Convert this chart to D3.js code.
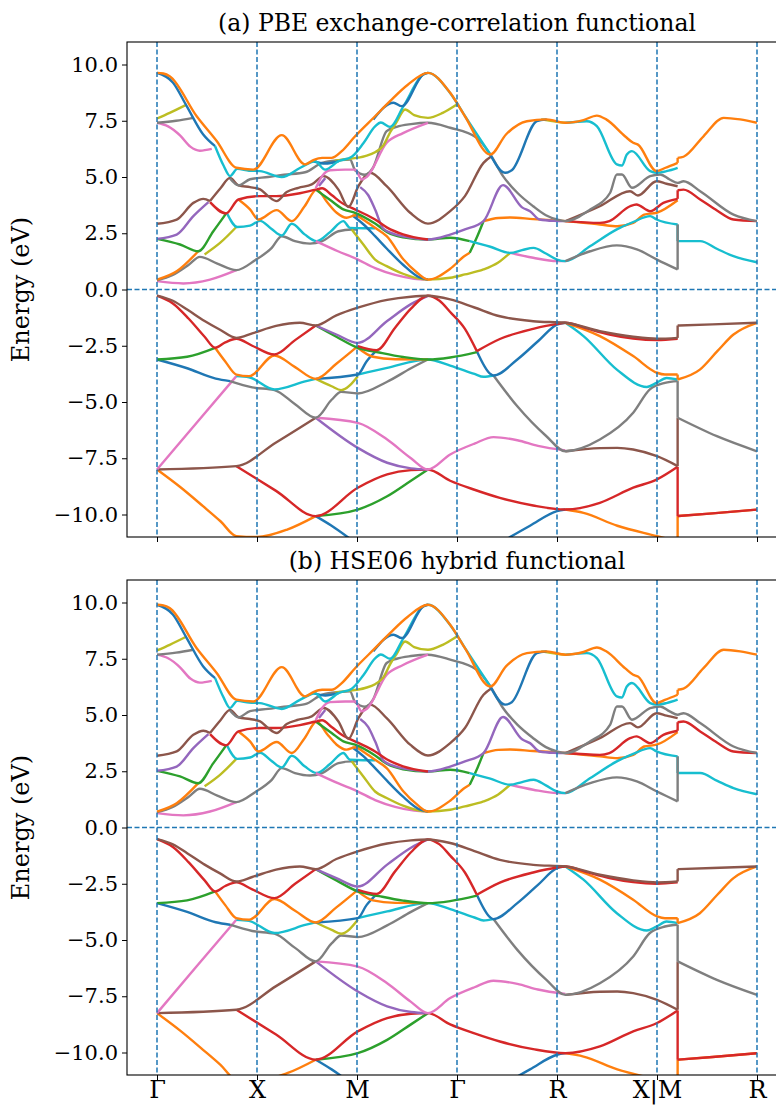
<!DOCTYPE html>
<html>
<head>
<meta charset="utf-8">
<script src="https://cdn.jsdelivr.net/npm/d3@7"></script>
<style>
  body { margin: 0; background: #fff; }
  svg text { font-family: "DejaVu Serif", serif; fill: #000; }
</style>
</head>
<body>
<svg id="chart" width="776" height="1105"></svg>
<script>
// matplotlib tab10 cycle
var tab = {C0: '#1f77b4', C1: '#ff7f0e', C2: '#2ca02c', C3: '#d62728', C4: '#9467bd',
           C5: '#8c564b', C6: '#e377c2', C7: '#7f7f7f', C8: '#bcbd22', C9: '#17becf'};

var kLabels = ['Γ', 'X', 'M', 'Γ', 'R', 'X|M', 'R'];
var kTicks = [0, 0.63, 1.26, 1.89, 2.52, 3.15, 3.78];
var yTicks = [-10, -7.5, -5, -2.5, 0, 2.5, 5, 7.5, 10];
var titles = ['(a) PBE exchange-correlation functional', '(b) HSE06 hybrid functional'];

// bands as [colour, [[k, E], ...]]
var bandsPBE = [
  ['C1', [[0,-8.0],[0.15,-8.8],[0.29,-9.63],[0.4,-10.3],[0.5,-10.96],[0.63,-11.0],[0.82,-10.67],[1,-10.07]]],
  ['C1', [[2.573,-9.78],[2.687,-9.93],[2.9,-10.5],[3.15,-10.96],[3.28,-11.2],[3.28,-10.07],[3.5,-9.95],[3.78,-9.78]]],
  ['C0', [[1,-10.07],[1.1,-10.5],[1.22,-11.1]]],
  ['C0', [[2.2,-11.1],[2.35,-10.5],[2.52,-9.85],[2.573,-9.78]]],
  ['C2', [[1,-10.07],[1.265,-9.78],[1.45,-9.19],[1.6,-8.5],[1.707,-8.0]]],
  ['C3', [[0.5,-7.85],[0.75,-8.95],[1,-10.07],[1.265,-8.81],[1.45,-8.22],[1.6,-8.03],[1.707,-8.0],[1.847,-8.5],[2,-8.9],[2.16,-9.26],[2.37,-9.6],[2.573,-9.78],[2.79,-9.48],[3,-8.81],[3.15,-8.44],[3.28,-7.88],[3.28,-10.07],[3.5,-9.95],[3.78,-9.78]]],
  ['C5', [[0,-8.0],[0.5,-7.85],[0.75,-6.8],[1,-5.7]]],
  ['C5', [[2.573,-7.19],[2.79,-7.05],[2.9,-7.04],[3,-7.11],[3.15,-7.41],[3.28,-7.85],[3.28,-5.7]]],
  ['C4', [[1,-5.7],[1.265,-7.04],[1.45,-7.7],[1.6,-7.95],[1.707,-8.0]]],
  ['C6', [[0,-8.0],[0.25,-5.92],[0.5,-3.85]]],
  ['C6', [[1,-5.7],[1.265,-5.93],[1.45,-6.67],[1.6,-7.5],[1.707,-8.0],[1.847,-7.33],[2,-6.85],[2.12,-6.56],[2.27,-6.7],[2.4,-6.95],[2.573,-7.15]]],
  ['C7', [[0.46,-4.07],[0.6,-4.35],[0.74,-4.47],[0.87,-5.1],[1,-5.7],[1.1,-4.9],[1.16,-4.55],[1.265,-4.62],[1.45,-4.1],[1.6,-3.5],[1.707,-3.11]]],
  ['C7', [[2.12,-3.82],[2.27,-5.19],[2.45,-6.5],[2.573,-7.19],[2.79,-6.67],[3,-5.48],[3.105,-4.44],[3.2,-4.15],[3.28,-4.07],[3.28,-5.7],[3.527,-6.52],[3.78,-7.19]]],
  ['C8', [[1,-3.97],[1.1,-4.3],[1.16,-4.47],[1.265,-3.85]]],
  ['C9', [[0.5,-3.85],[0.58,-3.9],[0.74,-4.44],[0.94,-4.07],[1,-3.97]]],
  ['C9', [[1.265,-3.78],[1.45,-3.48],[1.707,-3.11],[1.847,-3.38],[2,-3.75],[2.057,-3.88],[2.12,-3.82]]],
  ['C9', [[2.573,-1.48],[2.687,-2.07],[2.897,-3.56],[3.086,-4.33],[3.147,-4.15],[3.21,-3.93],[3.28,-4.0]]],
  ['C0', [[0,-3.11],[0.19,-3.5],[0.37,-3.96],[0.46,-4.07]]],
  ['C0', [[1,-3.97],[1.265,-3.78],[1.32,-3.2],[1.384,-2.71]]],
  ['C0', [[2.015,-2.74],[2.1,-3.75],[2.12,-3.82],[2.27,-3.11],[2.4,-2.3],[2.52,-1.56],[2.573,-1.48]]],
  ['C1', [[0.366,-2.59],[0.43,-3.2],[0.5,-3.78],[0.58,-3.85],[0.74,-2.93],[0.87,-3.45],[1,-3.97],[1.13,-3.3],[1.265,-2.52]]],
  ['C1', [[1.265,-2.59],[1.36,-2.99],[1.5,-3.1],[1.707,-3.11]]],
  ['C1', [[2.573,-1.48],[2.79,-2.07],[3,-2.96],[3.15,-3.7],[3.2,-3.78],[3.28,-3.78],[3.28,-4.0],[3.42,-3.56],[3.53,-2.74],[3.632,-2.0],[3.78,-1.48]]],
  ['C2', [[0,-3.11],[0.19,-2.99],[0.366,-2.59]]],
  ['C2', [[1,-1.6],[1.13,-2.1],[1.265,-2.59],[1.4,-2.8],[1.55,-3.0],[1.707,-3.11],[1.847,-3.02],[2.015,-2.78]]],
  ['C4', [[1,-1.6],[1.13,-2.0],[1.265,-2.37],[1.45,-1.4],[1.6,-0.65],[1.707,-0.28]]],
  ['C3', [[0,-0.27],[0.1,-0.62],[0.2,-1.3],[0.3,-2.1],[0.366,-2.59],[0.43,-2.35],[0.5,-2.19],[0.6,-2.5],[0.74,-2.89],[0.87,-2.25],[1,-1.6]]],
  ['C3', [[1.265,-2.52],[1.384,-2.7],[1.5,-1.7],[1.6,-0.85],[1.707,-0.28],[1.78,-0.5],[1.847,-1.0],[1.94,-1.75],[2.015,-2.74]]],
  ['C3', [[2.015,-2.74],[2.16,-2.2],[2.37,-1.75],[2.52,-1.53],[2.573,-1.48],[2.7,-1.72],[2.85,-2.0],[3,-2.18],[3.15,-2.25],[3.28,-2.19]]],
  ['C5', [[0,-0.27],[0.1,-0.5],[0.19,-0.89],[0.3,-1.4],[0.4,-1.8],[0.5,-2.15],[0.6,-1.95],[0.75,-1.62],[0.9,-1.48],[1,-1.6],[1.13,-1.15],[1.265,-0.81],[1.45,-0.46],[1.6,-0.32],[1.707,-0.28],[1.847,-0.44],[2,-0.8],[2.16,-1.19],[2.37,-1.41],[2.573,-1.48],[2.79,-1.85],[3,-2.1],[3.15,-2.19],[3.28,-2.15],[3.28,-1.6],[3.5,-1.55],[3.78,-1.48]]],
  // conduction bands
  ['C6', [[0,0.37],[0.166,0.27],[0.334,0.44],[0.5,0.86]]],
  ['C7', [[0,0.41],[0.1,0.65],[0.2,1.1],[0.27,1.45],[0.38,1.15],[0.5,0.86],[0.618,1.3],[0.723,1.85],[0.786,2.37],[0.869,2.15],[0.964,2.04],[1.04,2.15],[1.143,2.59],[1.227,2.67],[1.265,2.67]]],
  ['C1', [[0,0.44],[0.124,0.81],[0.26,1.7]]],
  ['C8', [[0.3,1.56],[0.397,2.07],[0.5,2.78]]],
  ['C2', [[0,2.25],[0.145,2.0],[0.26,1.7],[0.355,2.59],[0.439,3.41]]],
  ['C9', [[0.439,3.41],[0.506,2.78],[0.586,2.84],[0.649,3.05],[0.72,2.7],[0.786,2.4],[0.849,2.92],[0.93,2.45],[1.006,2.15],[1.09,2.55],[1.174,3.04],[1.216,2.74],[1.3,2.72],[1.374,2.72]]],
  ['C6', [[1.0,2.15],[1.14,1.7],[1.26,1.35],[1.374,0.95],[1.5,0.65],[1.62,0.48],[1.707,0.44]]],
  ['C8', [[1.227,2.67],[1.3,2.0],[1.374,1.33],[1.447,1.04],[1.55,0.7],[1.66,0.47],[1.707,0.44],[1.847,0.52],[1.94,0.67],[2.057,0.89],[2.15,1.2],[2.225,1.63]]],
  ['C0', [[1.23,3.3],[1.3,2.9],[1.374,2.37],[1.45,1.8],[1.55,1.1],[1.65,0.55],[1.707,0.44]]],
  ['C1', [[0.513,4.0],[0.586,3.56],[0.639,3.11],[0.754,3.53],[0.849,3.04],[0.93,3.7],[1.006,4.44],[1.07,3.9],[1.132,3.41],[1.195,3.19],[1.25,3.3],[1.3,3.1],[1.374,2.74],[1.447,2.37],[1.553,1.33],[1.63,0.8],[1.707,0.44],[1.847,0.92],[1.94,1.5],[1.97,1.63]]],
  ['C2', [[1.97,1.63],[2.02,2.4],[2.057,3.04]]],
  ['C1', [[2.057,3.04],[2.15,3.18],[2.225,3.2],[2.37,3.13],[2.52,3.07],[2.573,3.04],[2.79,2.89],[2.9,2.81],[3.0,2.96],[3.07,3.33],[3.147,3.41],[3.28,3.97]]],
  ['C6', [[2.225,1.63],[2.37,1.41],[2.52,1.26],[2.573,1.26]]],
  ['C2', [[1.0,4.44],[1.1,3.93],[1.174,3.56],[1.248,3.41],[1.374,2.93],[1.45,2.55],[1.55,2.32],[1.707,2.22],[1.847,2.3],[1.97,2.15]]],
  ['C9', [[1.97,2.15],[2.1,1.9],[2.225,1.63],[2.3,1.75],[2.372,1.85],[2.45,1.6],[2.52,1.33],[2.573,1.26],[2.73,1.93],[2.897,2.67],[3.0,3.0],[3.107,3.26],[3.147,3.11],[3.28,2.89],[3.28,2.15],[3.422,2.15],[3.53,1.8],[3.632,1.48],[3.779,1.21]]],
  ['C7', [[2.573,1.26],[2.729,1.7],[2.897,1.96],[3.023,1.78],[3.15,1.33],[3.28,0.89],[3.28,2.89]]],
  ['C4', [[0,2.25],[0.124,2.44],[0.229,3.26],[0.324,3.88]]],
  ['C4', [[1.02,4.6],[1.06,4.95]]],
  ['C4', [[1.28,4.55],[1.33,4.2],[1.374,3.56],[1.426,2.7],[1.5,2.45],[1.6,2.3],[1.707,2.22],[1.847,2.44],[1.94,2.67],[2.057,3.04],[2.18,4.64],[2.3,3.65],[2.35,3.48],[2.41,3.11],[2.5,3.05],[2.573,3.04]]],
  ['C3', [[0.334,3.88],[0.435,3.38],[0.513,4.0],[0.649,4.15],[0.75,4.15],[0.9,4.28],[1.0,4.44],[1.04,4.5],[1.1,4.2],[1.164,3.85],[1.265,3.5],[1.374,3.11],[1.45,2.75],[1.55,2.45],[1.707,2.22]]],
  ['C3', [[2.573,3.04],[2.79,2.96],[2.85,3.04],[2.98,3.7],[3.02,3.78],[3.107,3.48],[3.19,3.85],[3.28,4.03],[3.28,4.41],[3.317,4.44],[3.422,4.0],[3.53,3.5],[3.632,3.11],[3.779,3.04]]],
  ['C5', [[0,2.92],[0.124,3.11],[0.229,3.85],[0.292,4.03],[0.334,3.93]]],
  ['C5', [[0.334,3.93],[0.4,4.5],[0.46,4.96],[0.513,4.63],[0.586,4.55],[0.65,4.45],[0.7,4.15],[0.754,3.93],[0.817,4.33],[0.891,4.52],[0.975,4.67],[1.05,5.04],[1.143,4.44],[1.206,3.67],[1.269,4.59],[1.321,5.11],[1.342,5.19],[1.447,4.59],[1.595,3.41],[1.707,2.93],[1.847,3.48],[1.94,4.15],[2.057,5.63],[2.11,5.93]]],
  ['C5', [[2.573,3.04],[2.79,3.7],[2.98,4.37],[3.03,4.18],[3.147,4.81],[3.21,4.7],[3.28,4.59]]],
  ['C7', [[0.46,4.93],[0.513,4.63],[0.586,4.9],[0.7,5.0],[0.8,5.1],[0.933,5.21],[1.04,5.63],[1.15,5.75],[1.216,5.78],[1.248,5.3],[1.311,5.1],[1.36,5.4],[1.447,7.04],[1.51,7.23],[1.6,7.35],[1.707,7.41],[1.847,7.19],[2.015,6.74],[2.1,6.0],[2.18,5.04],[2.27,4.3],[2.37,3.7],[2.45,3.3],[2.52,3.11],[2.573,3.04],[2.729,3.56],[2.855,4.3],[2.897,5.11],[2.929,5.11],[2.992,4.52],[3.107,5.04],[3.17,5.11],[3.23,4.89],[3.28,4.74],[3.317,4.81],[3.422,4.37],[3.632,3.33],[3.779,3.04]]],
  ['C6', [[1.0,4.5],[1.04,5.04],[1.09,5.3],[1.185,5.33],[1.248,5.33],[1.29,4.89],[1.321,5.0],[1.447,6.52],[1.55,6.95],[1.707,7.41]]],
  ['C6', [[0,7.41],[0.07,7.25],[0.145,6.85],[0.21,6.35],[0.27,6.17],[0.345,6.25]]],
  ['C7', [[0,7.41],[0.12,7.5],[0.229,7.63]]],
  ['C8', [[0,7.6],[0.08,7.85],[0.187,8.22]]],
  ['C8', [[1.12,5.72],[1.2,5.8],[1.311,5.93],[1.374,6.1],[1.426,6.4],[1.47,7.0],[1.51,7.45],[1.563,8.0],[1.62,7.75],[1.707,7.63],[1.8,7.85],[1.889,8.22]]],
  ['C8', [[2.42,7.56],[2.52,7.45],[2.573,7.41]]],
  ['C0', [[0.985,5.7],[1.06,5.6],[1.143,5.7]]],
  ['C9', [[0.366,6.37],[0.42,5.5],[0.46,5.04],[0.506,5.36],[0.58,5.28],[0.649,5.26],[0.786,5.0],[0.903,5.41],[0.996,5.7],[1.059,5.33],[1.143,5.7],[1.227,5.9],[1.3,6.5],[1.374,7.25],[1.41,7.42],[1.468,7.23],[1.553,8.15],[1.678,9.56],[1.707,9.63],[1.85,8.7],[1.95,7.6],[2.1,6.0]]],
  ['C9', [[2.573,7.41],[2.708,7.48],[2.771,7.26],[2.897,5.56],[2.929,5.51],[2.96,6.0],[2.992,6.15],[3.107,5.26],[3.147,5.19],[3.21,5.26],[3.28,5.41]]],
  ['C0', [[0,9.63],[0.1,9.2],[0.187,8.15],[0.29,6.9],[0.366,6.37]]],
  ['C0', [[1.363,7.56],[1.49,8.3],[1.542,8.15],[1.678,9.56],[1.707,9.63]]],
  ['C0', [[2.099,6.0],[2.193,5.19],[2.235,5.3],[2.393,7.48],[2.455,7.56]]],
  ['C1', [[0,9.63],[0.04,9.6],[0.08,9.48],[0.25,7.7],[0.376,6.6],[0.5,5.41],[0.607,5.33],[0.786,6.86],[0.933,5.56],[0.985,5.75],[1.04,5.85],[1.1,5.85],[1.164,6.15],[1.248,6.81],[1.374,7.7],[1.468,8.37],[1.58,9.1],[1.707,9.63],[1.847,8.74],[1.94,7.7],[2.1,6.0],[2.2,6.9],[2.33,7.48],[2.455,7.56],[2.573,7.41],[2.687,7.53],[2.771,7.73],[2.83,7.56],[2.95,6.8],[3.0,6.52],[3.03,6.44],[3.147,5.26],[3.2,5.4],[3.28,5.63],[3.28,5.85],[3.317,5.9],[3.443,6.81],[3.57,7.63],[3.674,7.56],[3.779,7.41]]]
];

var bandsHSE = [
  ['C1', [[0,-8.25],[0.15,-9.05],[0.29,-9.88],[0.4,-10.55],[0.5,-11.21],[0.63,-11.25],[0.82,-10.92],[1,-10.32]]],
  ['C1', [[2.573,-10.03],[2.687,-10.18],[2.9,-10.75],[3.15,-11.21],[3.28,-11.45],[3.28,-10.32],[3.5,-10.2],[3.78,-10.03]]],
  ['C0', [[1,-10.32],[1.1,-10.75],[1.22,-11.35]]],
  ['C0', [[2.2,-11.35],[2.35,-10.75],[2.52,-10.1],[2.573,-10.03]]],
  ['C2', [[1,-10.32],[1.265,-10.03],[1.45,-9.44],[1.6,-8.75],[1.707,-8.25]]],
  ['C3', [[0.5,-8.1],[0.75,-9.2],[1,-10.32],[1.265,-9.06],[1.45,-8.47],[1.6,-8.28],[1.707,-8.25],[1.847,-8.75],[2,-9.15],[2.16,-9.51],[2.37,-9.85],[2.573,-10.03],[2.79,-9.73],[3,-9.06],[3.15,-8.69],[3.28,-8.13],[3.28,-10.32],[3.5,-10.2],[3.78,-10.03]]],
  ['C5', [[0,-8.25],[0.5,-8.1],[0.75,-7.05],[1,-5.95]]],
  ['C5', [[2.573,-7.44],[2.79,-7.3],[2.9,-7.29],[3,-7.36],[3.15,-7.66],[3.28,-8.1],[3.28,-5.95]]],
  ['C4', [[1,-5.95],[1.265,-7.29],[1.45,-7.95],[1.6,-8.2],[1.707,-8.25]]],
  ['C6', [[0,-8.25],[0.25,-6.17],[0.5,-4.1]]],
  ['C6', [[1,-5.95],[1.265,-6.18],[1.45,-6.92],[1.6,-7.75],[1.707,-8.25],[1.847,-7.58],[2,-7.1],[2.12,-6.81],[2.27,-6.95],[2.4,-7.2],[2.573,-7.4]]],
  ['C7', [[0.46,-4.32],[0.6,-4.6],[0.74,-4.72],[0.87,-5.35],[1,-5.95],[1.1,-5.15],[1.16,-4.8],[1.265,-4.87],[1.45,-4.35],[1.6,-3.75],[1.707,-3.36]]],
  ['C7', [[2.12,-4.07],[2.27,-5.44],[2.45,-6.75],[2.573,-7.44],[2.79,-6.92],[3,-5.73],[3.105,-4.69],[3.2,-4.4],[3.28,-4.32],[3.28,-5.95],[3.527,-6.77],[3.78,-7.44]]],
  ['C8', [[1,-4.22],[1.1,-4.55],[1.16,-4.72],[1.265,-4.1]]],
  ['C9', [[0.5,-4.1],[0.58,-4.15],[0.74,-4.69],[0.94,-4.32],[1,-4.22]]],
  ['C9', [[1.265,-4.03],[1.45,-3.73],[1.707,-3.36],[1.847,-3.63],[2,-4.0],[2.057,-4.13],[2.12,-4.07]]],
  ['C9', [[2.573,-1.73],[2.687,-2.32],[2.897,-3.81],[3.086,-4.58],[3.147,-4.4],[3.21,-4.18],[3.28,-4.25]]],
  ['C0', [[0,-3.36],[0.19,-3.75],[0.37,-4.21],[0.46,-4.32]]],
  ['C0', [[1,-4.22],[1.265,-4.03],[1.32,-3.45],[1.384,-2.96]]],
  ['C0', [[2.015,-2.99],[2.1,-4.0],[2.12,-4.07],[2.27,-3.36],[2.4,-2.55],[2.52,-1.81],[2.573,-1.73]]],
  ['C1', [[0.366,-2.84],[0.43,-3.45],[0.5,-4.03],[0.58,-4.1],[0.74,-3.18],[0.87,-3.7],[1,-4.22],[1.13,-3.55],[1.265,-2.77]]],
  ['C1', [[1.265,-2.84],[1.36,-3.24],[1.5,-3.35],[1.707,-3.36]]],
  ['C1', [[2.573,-1.73],[2.79,-2.32],[3,-3.21],[3.15,-3.95],[3.2,-4.03],[3.28,-4.03],[3.28,-4.25],[3.42,-3.81],[3.53,-2.99],[3.632,-2.25],[3.78,-1.73]]],
  ['C2', [[0,-3.36],[0.19,-3.24],[0.366,-2.84]]],
  ['C2', [[1,-1.85],[1.13,-2.35],[1.265,-2.84],[1.4,-3.05],[1.55,-3.25],[1.707,-3.36],[1.847,-3.27],[2.015,-3.03]]],
  ['C4', [[1,-1.85],[1.13,-2.25],[1.265,-2.62],[1.45,-1.65],[1.6,-0.9],[1.707,-0.53]]],
  ['C3', [[0,-0.52],[0.1,-0.87],[0.2,-1.55],[0.3,-2.35],[0.366,-2.84],[0.43,-2.6],[0.5,-2.44],[0.6,-2.75],[0.74,-3.14],[0.87,-2.5],[1,-1.85]]],
  ['C3', [[1.265,-2.77],[1.384,-2.95],[1.5,-1.95],[1.6,-1.1],[1.707,-0.53],[1.78,-0.75],[1.847,-1.25],[1.94,-2.0],[2.015,-2.99]]],
  ['C3', [[2.015,-2.99],[2.16,-2.45],[2.37,-2.0],[2.52,-1.78],[2.573,-1.73],[2.7,-1.97],[2.85,-2.25],[3,-2.43],[3.15,-2.5],[3.28,-2.44]]],
  ['C5', [[0,-0.52],[0.1,-0.75],[0.19,-1.14],[0.3,-1.65],[0.4,-2.05],[0.5,-2.4],[0.6,-2.2],[0.75,-1.87],[0.9,-1.73],[1,-1.85],[1.13,-1.4],[1.265,-1.06],[1.45,-0.71],[1.6,-0.57],[1.707,-0.53],[1.847,-0.69],[2,-1.05],[2.16,-1.44],[2.37,-1.66],[2.573,-1.73],[2.79,-2.1],[3,-2.35],[3.15,-2.44],[3.28,-2.4],[3.28,-1.85],[3.5,-1.8],[3.78,-1.73]]],
  // conduction bands
  ['C6', [[0,0.64],[0.166,0.54],[0.334,0.71],[0.5,1.13]]],
  ['C7', [[0,0.68],[0.1,0.92],[0.2,1.37],[0.27,1.72],[0.38,1.42],[0.5,1.13],[0.618,1.57],[0.723,2.12],[0.786,2.64],[0.869,2.42],[0.964,2.31],[1.04,2.42],[1.143,2.86],[1.227,2.94],[1.265,2.94]]],
  ['C1', [[0,0.71],[0.124,1.08],[0.26,1.97]]],
  ['C8', [[0.3,1.83],[0.397,2.34],[0.5,3.05]]],
  ['C2', [[0,2.52],[0.145,2.27],[0.26,1.97],[0.355,2.86],[0.439,3.68]]],
  ['C9', [[0.439,3.68],[0.506,3.05],[0.586,3.11],[0.649,3.32],[0.72,2.97],[0.786,2.67],[0.849,3.19],[0.93,2.72],[1.006,2.42],[1.09,2.82],[1.174,3.31],[1.216,3.01],[1.3,2.99],[1.374,2.99]]],
  ['C6', [[1.0,2.42],[1.14,1.97],[1.26,1.62],[1.374,1.22],[1.5,0.92],[1.62,0.75],[1.707,0.71]]],
  ['C8', [[1.227,2.94],[1.3,2.27],[1.374,1.6],[1.447,1.31],[1.55,0.97],[1.66,0.74],[1.707,0.71],[1.847,0.79],[1.94,0.94],[2.057,1.16],[2.15,1.47],[2.225,1.9]]],
  ['C0', [[1.23,3.57],[1.3,3.17],[1.374,2.64],[1.45,2.07],[1.55,1.37],[1.65,0.82],[1.707,0.71]]],
  ['C1', [[0.513,4.27],[0.586,3.83],[0.639,3.38],[0.754,3.8],[0.849,3.31],[0.93,3.97],[1.006,4.71],[1.07,4.17],[1.132,3.68],[1.195,3.46],[1.25,3.57],[1.3,3.37],[1.374,3.01],[1.447,2.64],[1.553,1.6],[1.63,1.07],[1.707,0.71],[1.847,1.19],[1.94,1.77],[1.97,1.9]]],
  ['C2', [[1.97,1.9],[2.02,2.67],[2.057,3.31]]],
  ['C1', [[2.057,3.31],[2.15,3.45],[2.225,3.47],[2.37,3.4],[2.52,3.34],[2.573,3.31],[2.79,3.16],[2.9,3.08],[3.0,3.23],[3.07,3.6],[3.147,3.68],[3.28,4.24]]],
  ['C6', [[2.225,1.9],[2.37,1.68],[2.52,1.53],[2.573,1.53]]],
  ['C2', [[1.0,4.71],[1.1,4.2],[1.174,3.83],[1.248,3.68],[1.374,3.2],[1.45,2.82],[1.55,2.59],[1.707,2.49],[1.847,2.57],[1.97,2.42]]],
  ['C9', [[1.97,2.42],[2.1,2.17],[2.225,1.9],[2.3,2.02],[2.372,2.12],[2.45,1.87],[2.52,1.6],[2.573,1.53],[2.73,2.2],[2.897,2.94],[3.0,3.27],[3.107,3.53],[3.147,3.38],[3.28,3.16],[3.28,2.42],[3.422,2.42],[3.53,2.07],[3.632,1.75],[3.779,1.48]]],
  ['C7', [[2.573,1.53],[2.729,1.97],[2.897,2.23],[3.023,2.05],[3.15,1.6],[3.28,1.16],[3.28,3.16]]],
  ['C4', [[0,2.52],[0.124,2.71],[0.229,3.53],[0.324,4.15]]],
  ['C4', [[1.02,4.87],[1.06,5.22]]],
  ['C4', [[1.28,4.82],[1.33,4.47],[1.374,3.83],[1.426,2.97],[1.5,2.72],[1.6,2.57],[1.707,2.49],[1.847,2.71],[1.94,2.94],[2.057,3.31],[2.18,4.91],[2.3,3.92],[2.35,3.75],[2.41,3.38],[2.5,3.32],[2.573,3.31]]],
  ['C3', [[0.334,4.15],[0.435,3.65],[0.513,4.27],[0.649,4.42],[0.75,4.42],[0.9,4.55],[1.0,4.71],[1.04,4.77],[1.1,4.47],[1.164,4.12],[1.265,3.77],[1.374,3.38],[1.45,3.02],[1.55,2.72],[1.707,2.49]]],
  ['C3', [[2.573,3.31],[2.79,3.23],[2.85,3.31],[2.98,3.97],[3.02,4.05],[3.107,3.75],[3.19,4.12],[3.28,4.3],[3.28,4.68],[3.317,4.71],[3.422,4.27],[3.53,3.77],[3.632,3.38],[3.779,3.31]]],
  ['C5', [[0,3.19],[0.124,3.38],[0.229,4.12],[0.292,4.3],[0.334,4.2]]],
  ['C5', [[0.334,4.2],[0.4,4.77],[0.46,5.23],[0.513,4.9],[0.586,4.82],[0.65,4.72],[0.7,4.42],[0.754,4.2],[0.817,4.6],[0.891,4.79],[0.975,4.94],[1.05,5.31],[1.143,4.71],[1.206,3.94],[1.269,4.86],[1.321,5.38],[1.342,5.46],[1.447,4.86],[1.595,3.68],[1.707,3.2],[1.847,3.75],[1.94,4.42],[2.057,5.9],[2.11,6.2]]],
  ['C5', [[2.573,3.31],[2.79,3.97],[2.98,4.64],[3.03,4.45],[3.147,5.08],[3.21,4.97],[3.28,4.86]]],
  ['C7', [[0.46,5.2],[0.513,4.9],[0.586,5.17],[0.7,5.27],[0.8,5.37],[0.933,5.48],[1.04,5.9],[1.15,6.02],[1.216,6.05],[1.248,5.57],[1.311,5.37],[1.36,5.67],[1.447,7.31],[1.51,7.5],[1.6,7.62],[1.707,7.68],[1.847,7.46],[2.015,7.01],[2.1,6.27],[2.18,5.31],[2.27,4.57],[2.37,3.97],[2.45,3.57],[2.52,3.38],[2.573,3.31],[2.729,3.83],[2.855,4.57],[2.897,5.38],[2.929,5.38],[2.992,4.79],[3.107,5.31],[3.17,5.38],[3.23,5.16],[3.28,5.01],[3.317,5.08],[3.422,4.64],[3.632,3.6],[3.779,3.31]]],
  ['C6', [[1.0,4.77],[1.04,5.31],[1.09,5.57],[1.185,5.6],[1.248,5.6],[1.29,5.16],[1.321,5.27],[1.447,6.79],[1.55,7.22],[1.707,7.68]]],
  ['C6', [[0,7.68],[0.07,7.52],[0.145,7.12],[0.21,6.62],[0.27,6.44],[0.345,6.52]]],
  ['C7', [[0,7.68],[0.12,7.77],[0.229,7.9]]],
  ['C8', [[0,7.87],[0.08,8.12],[0.187,8.49]]],
  ['C8', [[1.12,5.99],[1.2,6.07],[1.311,6.2],[1.374,6.37],[1.426,6.67],[1.47,7.27],[1.51,7.72],[1.563,8.27],[1.62,8.02],[1.707,7.9],[1.8,8.12],[1.889,8.49]]],
  ['C8', [[2.42,7.83],[2.52,7.72],[2.573,7.68]]],
  ['C0', [[0.985,5.97],[1.06,5.87],[1.143,5.97]]],
  ['C9', [[0.366,6.64],[0.42,5.77],[0.46,5.31],[0.506,5.63],[0.58,5.55],[0.649,5.53],[0.786,5.27],[0.903,5.68],[0.996,5.97],[1.059,5.6],[1.143,5.97],[1.227,6.17],[1.3,6.77],[1.374,7.52],[1.41,7.69],[1.468,7.5],[1.553,8.42],[1.678,9.83],[1.707,9.9],[1.85,8.97],[1.95,7.87],[2.1,6.27]]],
  ['C9', [[2.573,7.68],[2.708,7.75],[2.771,7.53],[2.897,5.83],[2.929,5.78],[2.96,6.27],[2.992,6.42],[3.107,5.53],[3.147,5.46],[3.21,5.53],[3.28,5.68]]],
  ['C0', [[0,9.9],[0.1,9.47],[0.187,8.42],[0.29,7.17],[0.366,6.64]]],
  ['C0', [[1.363,7.83],[1.49,8.57],[1.542,8.42],[1.678,9.83],[1.707,9.9]]],
  ['C0', [[2.099,6.27],[2.193,5.46],[2.235,5.57],[2.393,7.75],[2.455,7.83]]],
  ['C1', [[0,9.9],[0.04,9.87],[0.08,9.75],[0.25,7.97],[0.376,6.87],[0.5,5.68],[0.607,5.6],[0.786,7.13],[0.933,5.83],[0.985,6.02],[1.04,6.12],[1.1,6.12],[1.164,6.42],[1.248,7.08],[1.374,7.97],[1.468,8.64],[1.58,9.37],[1.707,9.9],[1.847,9.01],[1.94,7.97],[2.1,6.27],[2.2,7.17],[2.33,7.75],[2.455,7.83],[2.573,7.68],[2.687,7.8],[2.771,8.0],[2.83,7.83],[2.95,7.07],[3.0,6.79],[3.03,6.71],[3.147,5.53],[3.2,5.67],[3.28,5.9],[3.28,6.12],[3.317,6.17],[3.443,7.08],[3.57,7.9],[3.674,7.83],[3.779,7.68]]]
];

var svg = d3.select('#chart');
var left = 127, right = 787;
var x = d3.scaleLinear().domain([-0.189, 3.969]).range([left, right]);

var panels = [
  {bands: bandsPBE, title: titles[0], top: 42, bottom: 537, labels: false},
  {bands: bandsHSE, title: titles[1], top: 580, bottom: 1075, labels: true}
];

var smooth = d3.line().curve(d3.curveMonotoneX);
var straight = d3.line();

// split a band where k repeats (the X|M jump) into smooth runs joined by straight pieces
function drawBand(g, pts, colour, y) {
  var runs = [], joins = [], cur = [pts[0]];
  for (var i = 1; i < pts.length; i++) {
    if (pts[i][0] <= cur[cur.length - 1][0]) {
      runs.push(cur);
      joins.push([cur[cur.length - 1], pts[i]]);
      cur = [pts[i]];
    } else {
      cur.push(pts[i]);
    }
  }
  runs.push(cur);
  var toPx = function (p) { return [x(p[0]), y(p[1])]; };
  runs.concat(joins).forEach(function (r) {
    if (r.length < 2) return;
    g.append('path')
      .attr('d', (r.length > 2 ? smooth : straight)(r.map(toPx)))
      .attr('fill', 'none')
      .attr('stroke', colour)
      .attr('stroke-width', 2.4)
      .attr('stroke-linejoin', 'round');
  });
}

panels.forEach(function (p, idx) {
  var y = d3.scaleLinear().domain([-11, 11]).range([p.bottom, p.top]);

  svg.append('clipPath').attr('id', 'clip' + idx)
    .append('rect').attr('x', left).attr('y', p.top)
    .attr('width', right - left).attr('height', p.bottom - p.top);

  var g = svg.append('g').attr('clip-path', 'url(#clip' + idx + ')');
  p.bands.forEach(function (b) { drawBand(g, b[1], tab[b[0]], y); });

  // dashed guides at the path ticks and the Fermi level
  g.selectAll('line.kline').data(kTicks).enter().append('line')
    .attr('x1', function (d) { return x(d); }).attr('x2', function (d) { return x(d); })
    .attr('y1', p.top).attr('y2', p.bottom)
    .attr('stroke', tab.C0).attr('stroke-width', 1.5).attr('stroke-dasharray', '5,2.5');
  g.append('line')
    .attr('x1', left).attr('x2', right).attr('y1', y(0)).attr('y2', y(0))
    .attr('stroke', tab.C0).attr('stroke-width', 1.5).attr('stroke-dasharray', '5,2.5');

  // spines
  svg.append('rect')
    .attr('x', left).attr('y', p.top).attr('width', right - left).attr('height', p.bottom - p.top)
    .attr('fill', 'none').attr('stroke', '#000').attr('stroke-width', 1.1);

  var ya = svg.append('g').attr('transform', 'translate(' + left + ',0)')
    .call(d3.axisLeft(y).tickValues(yTicks).tickFormat(d3.format('.1f')).tickSize(5).tickPadding(4));
  ya.select('.domain').remove();
  ya.selectAll('text').attr('font-size', 21).attr('font-family', '"DejaVu Serif", serif');

  var xa = svg.append('g').attr('transform', 'translate(0,' + p.bottom + ')')
    .call(d3.axisBottom(x).tickValues(kTicks)
      .tickFormat(function (d, i) { return p.labels ? kLabels[i] : ''; })
      .tickSize(5).tickPadding(3));
  xa.select('.domain').remove();
  xa.selectAll('text').attr('font-size', 24).attr('dy', '0.62em')
    .attr('font-family', '"DejaVu Serif", serif');

  svg.append('text')
    .attr('x', (left + right) / 2).attr('y', p.top - 11)
    .attr('text-anchor', 'middle').attr('font-size', 23.5)
    .text(p.title);

  svg.append('text')
    .attr('transform', 'translate(29,' + (p.top + p.bottom) / 2 + ') rotate(-90)')
    .attr('text-anchor', 'middle').attr('font-size', 24)
    .text('Energy (eV)');
});
</script>
</body>
</html>
